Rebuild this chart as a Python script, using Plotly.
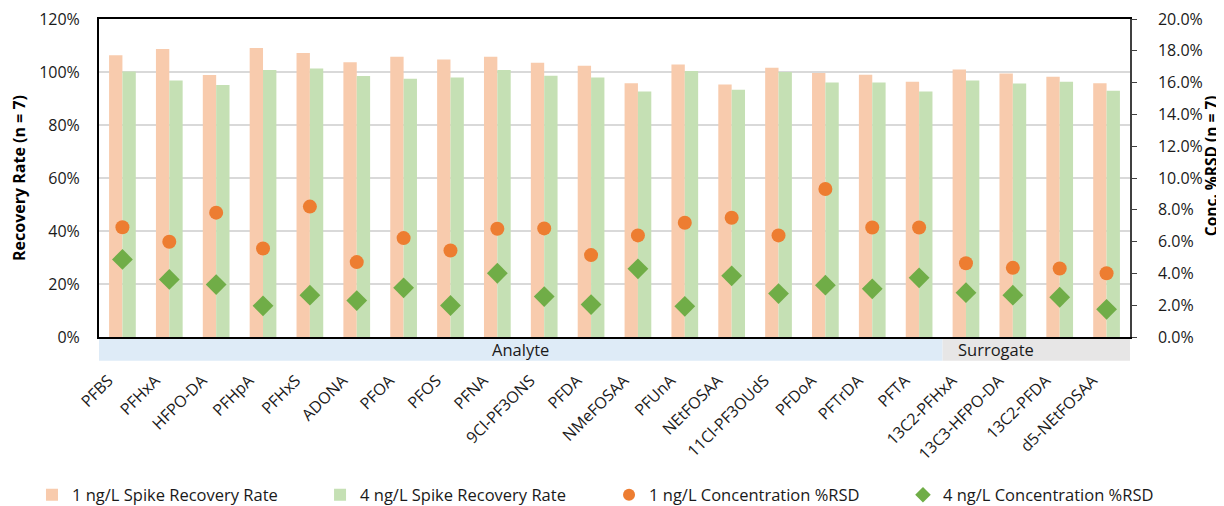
import plotly.graph_objects as go

categories = ["PFBS", "PFHxA", "HFPO-DA", "PFHpA", "PFHxS", "ADONA", "PFOA", "PFOS", "PFNA",
              "9Cl-PF3ONS", "PFDA", "NMeFOSAA", "PFUnA", "NEtFOSAA", "11Cl-PF3OUdS", "PFDoA",
              "PFTrDA", "PFTA", "13C2-PFHxA", "13C3-HFPO-DA", "13C2-PFDA", "d5-NEtFOSAA"]
groups = ["Analyte"] * 18 + ["Surrogate"] * 4

rec_1ng = [106.3, 108.7, 98.9, 109.1, 107.2, 103.7, 105.8, 104.7, 105.8, 103.5, 102.4, 95.8,
           102.8, 95.3, 101.6, 99.6, 99.0, 96.3, 100.9, 99.4, 98.2, 95.8]
rec_4ng = [100.2, 96.8, 95.1, 100.8, 101.3, 98.5, 97.5, 97.9, 100.8, 98.6, 97.9, 92.6,
           100.4, 93.3, 100.0, 96.0, 96.0, 92.6, 96.8, 95.7, 96.3, 92.9]
rsd_1ng = [6.90, 5.99, 7.82, 5.57, 8.20, 4.71, 6.22, 5.44, 6.81, 6.83, 5.15, 6.39,
           7.19, 7.50, 6.39, 9.31, 6.89, 6.89, 4.64, 4.35, 4.31, 4.01]
rsd_4ng = [4.88, 3.62, 3.30, 1.96, 2.63, 2.29, 3.09, 1.98, 4.01, 2.54, 2.04, 4.29,
           1.93, 3.85, 2.73, 3.26, 3.03, 3.72, 2.79, 2.63, 2.50, 1.74]

FONT = "Open Sans"
TXT = "#1a1a1a"
FS = 16

fig = go.Figure()
fig.add_trace(go.Bar(x=categories, y=[v / 100 for v in rec_1ng], name="1 ng/L Spike Recovery Rate",
                     marker=dict(color="#F8CBAD", line=dict(width=0)), legend="legend"))
fig.add_trace(go.Bar(x=categories, y=[v / 100 for v in rec_4ng], name="4 ng/L Spike Recovery Rate",
                     marker=dict(color="#C5E0B4", line=dict(width=0)), legend="legend2"))
fig.add_trace(go.Scatter(x=categories, y=[v / 100 for v in rsd_1ng], yaxis="y2", mode="markers",
                         name="1 ng/L Concentration %RSD", legend="legend3",
                         marker=dict(symbol="circle", size=14, color="#ED7D31")))
fig.add_trace(go.Scatter(x=categories, y=[v / 100 for v in rsd_4ng], yaxis="y2", mode="markers",
                         name="4 ng/L Concentration %RSD", legend="legend4",
                         marker=dict(symbol="diamond", size=16, color="#70AD47")))

# group bands below the axis
n = len(categories)
group_names = []
for g in groups:
    if g not in group_names:
        group_names.append(g)
band_colors = {"Analyte": "#DEEBF7", "Surrogate": "#E7E6E6"}
start = 0
for g in group_names:
    cnt = groups.count(g)
    x0 = start / n
    x1 = (start + cnt) / n
    fig.add_shape(type="rect", xref="paper", yref="paper", x0=x0, x1=x1, y0=-0.075, y1=-0.003,
                  fillcolor=band_colors[g], line=dict(width=0), layer="below")
    fig.add_annotation(text=g, xref="paper", yref="paper", x=(x0 + x1) / 2, y=-0.039,
                       showarrow=False, font=dict(family=FONT, size=16.5, color=TXT), yanchor="middle")
    start += cnt

# right axis title
fig.add_annotation(text="<b>Conc. %RSD (n = 7)</b>", xref="paper", yref="paper", x=1.0785, y=0.54,
                   textangle=-90, showarrow=False, xanchor="center", yanchor="middle",
                   font=dict(family=FONT, size=15.5, color="black"))

leg_common = dict(orientation="h", y=-0.497, xanchor="left", yanchor="middle",
                  font=dict(family=FONT, size=16.5, color=TXT), itemsizing="constant",
                  bgcolor="rgba(0,0,0,0)")
# page body has an 8px margin; offset margins so the plot area lands where the reference has it
fig.update_layout(
    width=1224, height=506,
    margin=dict(l=91, r=102, t=11, b=177, autoexpand=False),
    paper_bgcolor="white", plot_bgcolor="white",
    barmode="group", bargap=0.43, bargroupgap=0,
    font=dict(family=FONT, size=FS, color=TXT),
    showlegend=True,
    legend=dict(x=-0.065, **leg_common),
    legend2=dict(x=0.2144, **leg_common),
    legend3=dict(x=0.4947, **leg_common),
    legend4=dict(x=0.7798, **leg_common),
    xaxis=dict(type="category", range=[-0.5, n - 0.5], showline=True, linecolor="black", linewidth=2,
               mirror=True, automargin=False, ticklabeloverflow="allow",
               tickangle=-45, ticks="", ticklabelstandoff=26, ticklabelshift=-14,
               tickfont=dict(family=FONT, size=16, color=TXT)),
    yaxis=dict(range=[0, 1.2], dtick=0.2, tickformat=".0%", showline=True, linecolor="black", linewidth=2,
               gridcolor="#D9D9D9", gridwidth=1.5, ticks="", ticklabelstandoff=14, automargin=False,
               ticklabeloverflow="allow",
               tickfont=dict(family=FONT, size=FS, color=TXT), zeroline=False,
               title=dict(text="<b>Recovery Rate (n = 7)</b>", font=dict(family=FONT, size=16, color="black"), standoff=12)),
    yaxis2=dict(range=[0, 0.2], dtick=0.02, tickformat=".1%", overlaying="y", side="right",
                showline=True, linecolor="#404040", linewidth=1.5, showgrid=False, zeroline=False,
                ticks="outside", ticklen=5, tickcolor="#404040", ticklabelstandoff=18, automargin=False,
                ticklabeloverflow="allow",
                tickfont=dict(family=FONT, size=FS, color=TXT)),
)

fig.write_html("out.html")
